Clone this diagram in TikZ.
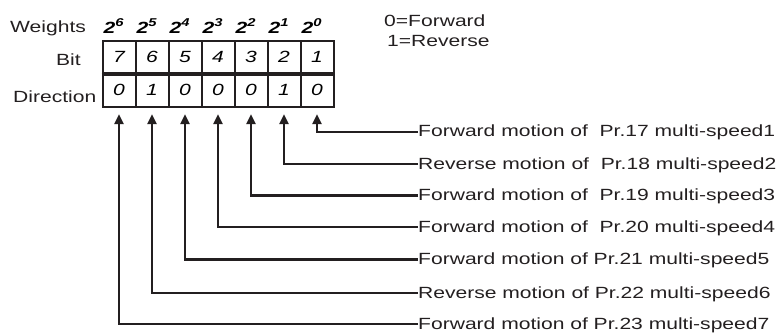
\documentclass[tikz,border=0pt]{standalone}
\usepackage{fontspec}
\setmainfont{Liberation Sans}[FakeStretch=1.3]
\usepackage{xcolor}
\usepackage{tikz}
\usetikzlibrary{arrows.meta, positioning}
\definecolor{inkblack}{RGB}{35, 31, 32}

\begin{document}
\begin{tikzpicture}[
    x=1pt, y=-1pt,
    txt/.style={font=\fontsize{16.2}{19}\selectfont, inner sep=0pt, text=inkblack},
    cell/.style={draw=inkblack, line width=2pt, minimum width=33pt, 
                 inner sep=0pt, font=\fontsize{16.2}{19}\selectfont\itshape},
    weight/.style={font=\fontsize{16.2}{19}\selectfont\bfseries\itshape, inner sep=0pt},
    arrow/.style={-{Triangle[length=10pt, width=9pt]}, line width=2.2pt, inkblack}
]
    \useasboundingbox (0,0) rectangle (779,333);

    % row headings and legend
    \node[txt, anchor=base west] (hweight) at (10,32.5) {Weights};
    \node[txt, anchor=base west] (hbit) at (56,65.7) {Bit};
    \node[txt, anchor=base west] (hdir) at (13,102.5) {Direction};
    \node[txt, anchor=base west] (fwd) at (384,26.5) {0=Forward};
    \node[txt, anchor=base west] (rev) at (387,46.5) {1=Reverse};

    % bit table
    \foreach \bit/\dir [count=\k from 0] in {7/0,6/1,5/0,4/0,3/0,2/1,1/0} {
        \pgfmathtruncatemacro\ex{\bit-1}
        \node[cell, minimum height=32.8pt] (b\bit) at (119+33*\k,57.1) {\bit};
        \node[cell, minimum height=33.8pt] (d\bit) at (119+33*\k,90.2) {\dir};
        \node[weight, anchor=base west] (w\bit) at (103.5+33*\k,33) 
            {2\textsuperscript{\ex}};
    }
    \draw[inkblack, line width=3pt] (b7.south west) -- (b1.south east);

    % motion labels
    \foreach \bit/\y/\name in {
        1/131.7/{Forward motion of\ \ Pr.17 multi-speed1},
        2/164/{Reverse motion of\ \ Pr.18 multi-speed2},
        3/195.5/{Forward motion of\ \ Pr.19 multi-speed3},
        4/227.3/{Forward motion of\ \ Pr.20 multi-speed4},
        5/259.5/{Forward motion of Pr.21 multi-speed5},
        6/293/{Reverse motion of Pr.22 multi-speed6},
        7/324/{Forward motion of Pr.23 multi-speed7}} {
        \node[txt, anchor=base west] (m\bit) at (418,\y+5) {\name};
        \draw[arrow, shorten >=6pt] ([yshift=5pt]m\bit.base west) -| (d\bit.south);
    }
\end{tikzpicture}
\end{document}
